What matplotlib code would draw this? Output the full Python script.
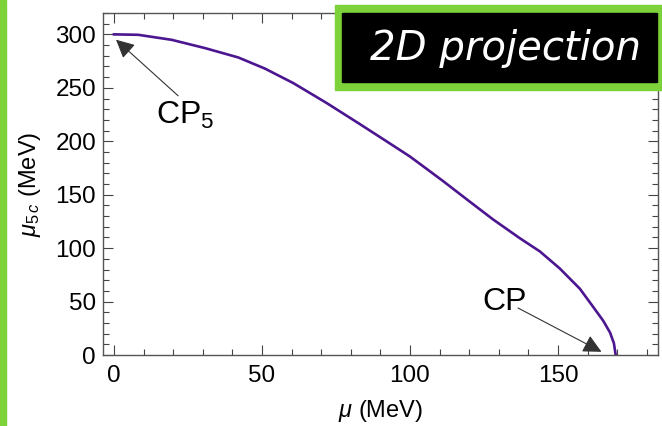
import matplotlib.pyplot as plt
import matplotlib as mpl
from matplotlib.patches import Rectangle
from matplotlib.ticker import MultipleLocator

# FONTS
mpl.rcParams['font.family'] = ['Liberation Sans', 'DejaVu Sans']
mpl.rcParams['mathtext.fontset'] = 'custom'
mpl.rcParams['mathtext.rm'] = 'Liberation Sans'
mpl.rcParams['mathtext.it'] = 'Liberation Sans:italic'

# DATA
mu = [0, 8.2, 19.5, 30.7, 42, 51, 60.6, 71.9, 83.1, 91.5, 100, 104.5, 111.3,
      120.2, 128, 137.1, 143.9, 150.6, 157.4, 161.9, 165.3, 167.6, 168.9, 169.5]
mu5c = [300, 299.6, 294.9, 287.2, 278.4, 268, 254.4, 235.7, 216, 201, 185.7, 176.5, 162.5,
        143.5, 127, 109.3, 96.9, 81, 62, 45, 32, 21, 11, 0]

x_label = r'$\mu$ (MeV)'
y_label = r'$\mu_{5\,c}$ (MeV)'
title_text = '2D projection'

# FIGURE
fig = plt.figure(figsize=(6.62, 4.26), dpi=100)
ax = fig.add_axes([103/662, 1 - 355/426, 555/662, 342/426])

ax.plot(mu, mu5c, color='#4b1690', lw=1.9, solid_joinstyle='round')

ax.set_xlim(-3.7, 183.8)
ax.set_ylim(0, 320)
ax.xaxis.set_major_locator(MultipleLocator(50))
ax.xaxis.set_minor_locator(MultipleLocator(10))
ax.yaxis.set_major_locator(MultipleLocator(50))
ax.yaxis.set_minor_locator(MultipleLocator(10))
ax.tick_params(which='both', direction='in', top=True, right=True,
               color='#444444', width=0.8, labelsize=17.5, pad=5)
ax.tick_params(axis='x', pad=7)
ax.tick_params(which='major', length=7)
ax.tick_params(which='minor', length=4)
for sp in ax.spines.values():
    sp.set_color('#555555')
    sp.set_linewidth(1.0)

ax.set_xlabel(x_label, fontsize=17, labelpad=8)
ax.set_ylabel(y_label, fontsize=17, labelpad=9)

# annotations
arrow_kw = dict(arrowstyle='-|>', color='#333333', lw=0.8, mutation_scale=28,
                shrinkA=0, shrinkB=0)
ax.annotate('', xy=(0.7, 295), xytext=(21.7, 242.5), arrowprops=arrow_kw)
ax.text(24, 224, r'CP$_5$', fontsize=23, ha='center', va='center')
ax.annotate('', xy=(164.7, 3), xytext=(136.5, 44), arrowprops=arrow_kw)
ax.text(132, 50, 'CP', fontsize=23, ha='center', va='center')

# green bar on the left
fig.patches.append(Rectangle((0, 0), 6/662, 1, transform=fig.transFigure,
                             color='#7dd23a', zorder=5))

# title box
fig.patches.append(Rectangle((335/662, 1 - 90/426), 330/662, 85/426,
                             transform=fig.transFigure, color='#7dd23a', zorder=5))
fig.patches.append(Rectangle((342/662, 1 - 82/426), 315/662, 69/426,
                             transform=fig.transFigure, color='black', zorder=6))
fig.text(506/662, 1 - 48/426, title_text, color='white', fontsize=29,
         family=['DejaVu Sans'], style='italic', ha='center', va='center', zorder=7)

fig.savefig('out.png', dpi=100)
